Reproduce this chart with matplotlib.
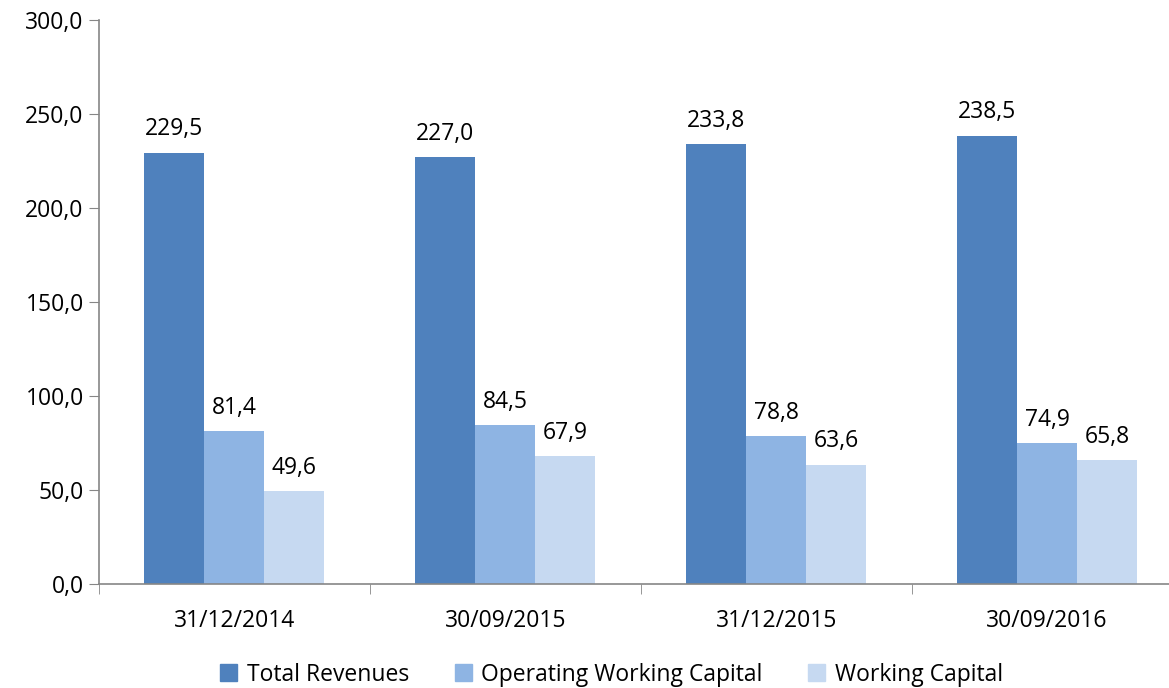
import numpy as np
import matplotlib.pyplot as plt
from matplotlib.patches import Patch

categories = ["31/12/2014", "30/09/2015", "31/12/2015", "30/09/2016"]
total_revenues = [229.5, 227.0, 233.8, 238.5]
operating_wc = [81.4, 84.5, 78.8, 74.9]
working_capital = [49.6, 67.9, 63.6, 65.8]

series_names = ["Total Revenues", "Operating Working Capital", "Working Capital"]
colors = ["#4F81BD", "#8EB4E3", "#C6D9F1"]

plt.rcParams['font.family'] = ['Open Sans', 'DejaVu Sans']
fs = 16.5

fig = plt.figure(figsize=(11.69, 6.88), dpi=100)
ax = fig.add_axes([0.0847, 0.151, 0.9153, 0.820])

x = np.arange(len(categories))
w = 60 / 271
for i, (vals, c) in enumerate(zip([total_revenues, operating_wc, working_capital], colors)):
    bars = ax.bar(x + (i - 1) * w, vals, w, color=c, label=series_names[i])
    for b, v in zip(bars, vals):
        ax.annotate(f"{v:.1f}".replace(".", ","), (b.get_x() + b.get_width() / 2, v),
                    xytext=(0, 8), textcoords="offset points", ha="center", va="bottom",
                    fontsize=fs)

ax.set_yticks(np.arange(0, 301, 50))
ax.set_yticklabels([f"{v:.1f}".replace(".", ",") for v in np.arange(0, 301, 50)], fontsize=fs)
ax.set_xticks(x)
ax.set_xticklabels(categories, fontsize=fs)
ax.tick_params(axis="x", length=0, pad=18)
ax.set_xticks(np.arange(-0.5, 3.0, 1), minor=True)
ax.tick_params(axis="x", which="minor", length=7, color="#868686")
ax.tick_params(axis="y", length=7, color="#868686", pad=4)
ax.set_ylim(0, 300)
ax.set_xlim(-0.5, 3.45)

for s in ["top", "right"]:
    ax.spines[s].set_visible(False)
for s in ["left", "bottom"]:
    ax.spines[s].set_color("#868686")
    ax.spines[s].set_linewidth(1.2)

handles = [Patch(color=c) for c in colors]
fig.legend(handles, series_names, loc="lower center", bbox_to_anchor=(0.523, -0.028), ncol=3,
           frameon=False, fontsize=fs, handlelength=0.75, handleheight=0.75,
           handletextpad=0.4, columnspacing=2.0)

fig.savefig("out.png", dpi=100)
